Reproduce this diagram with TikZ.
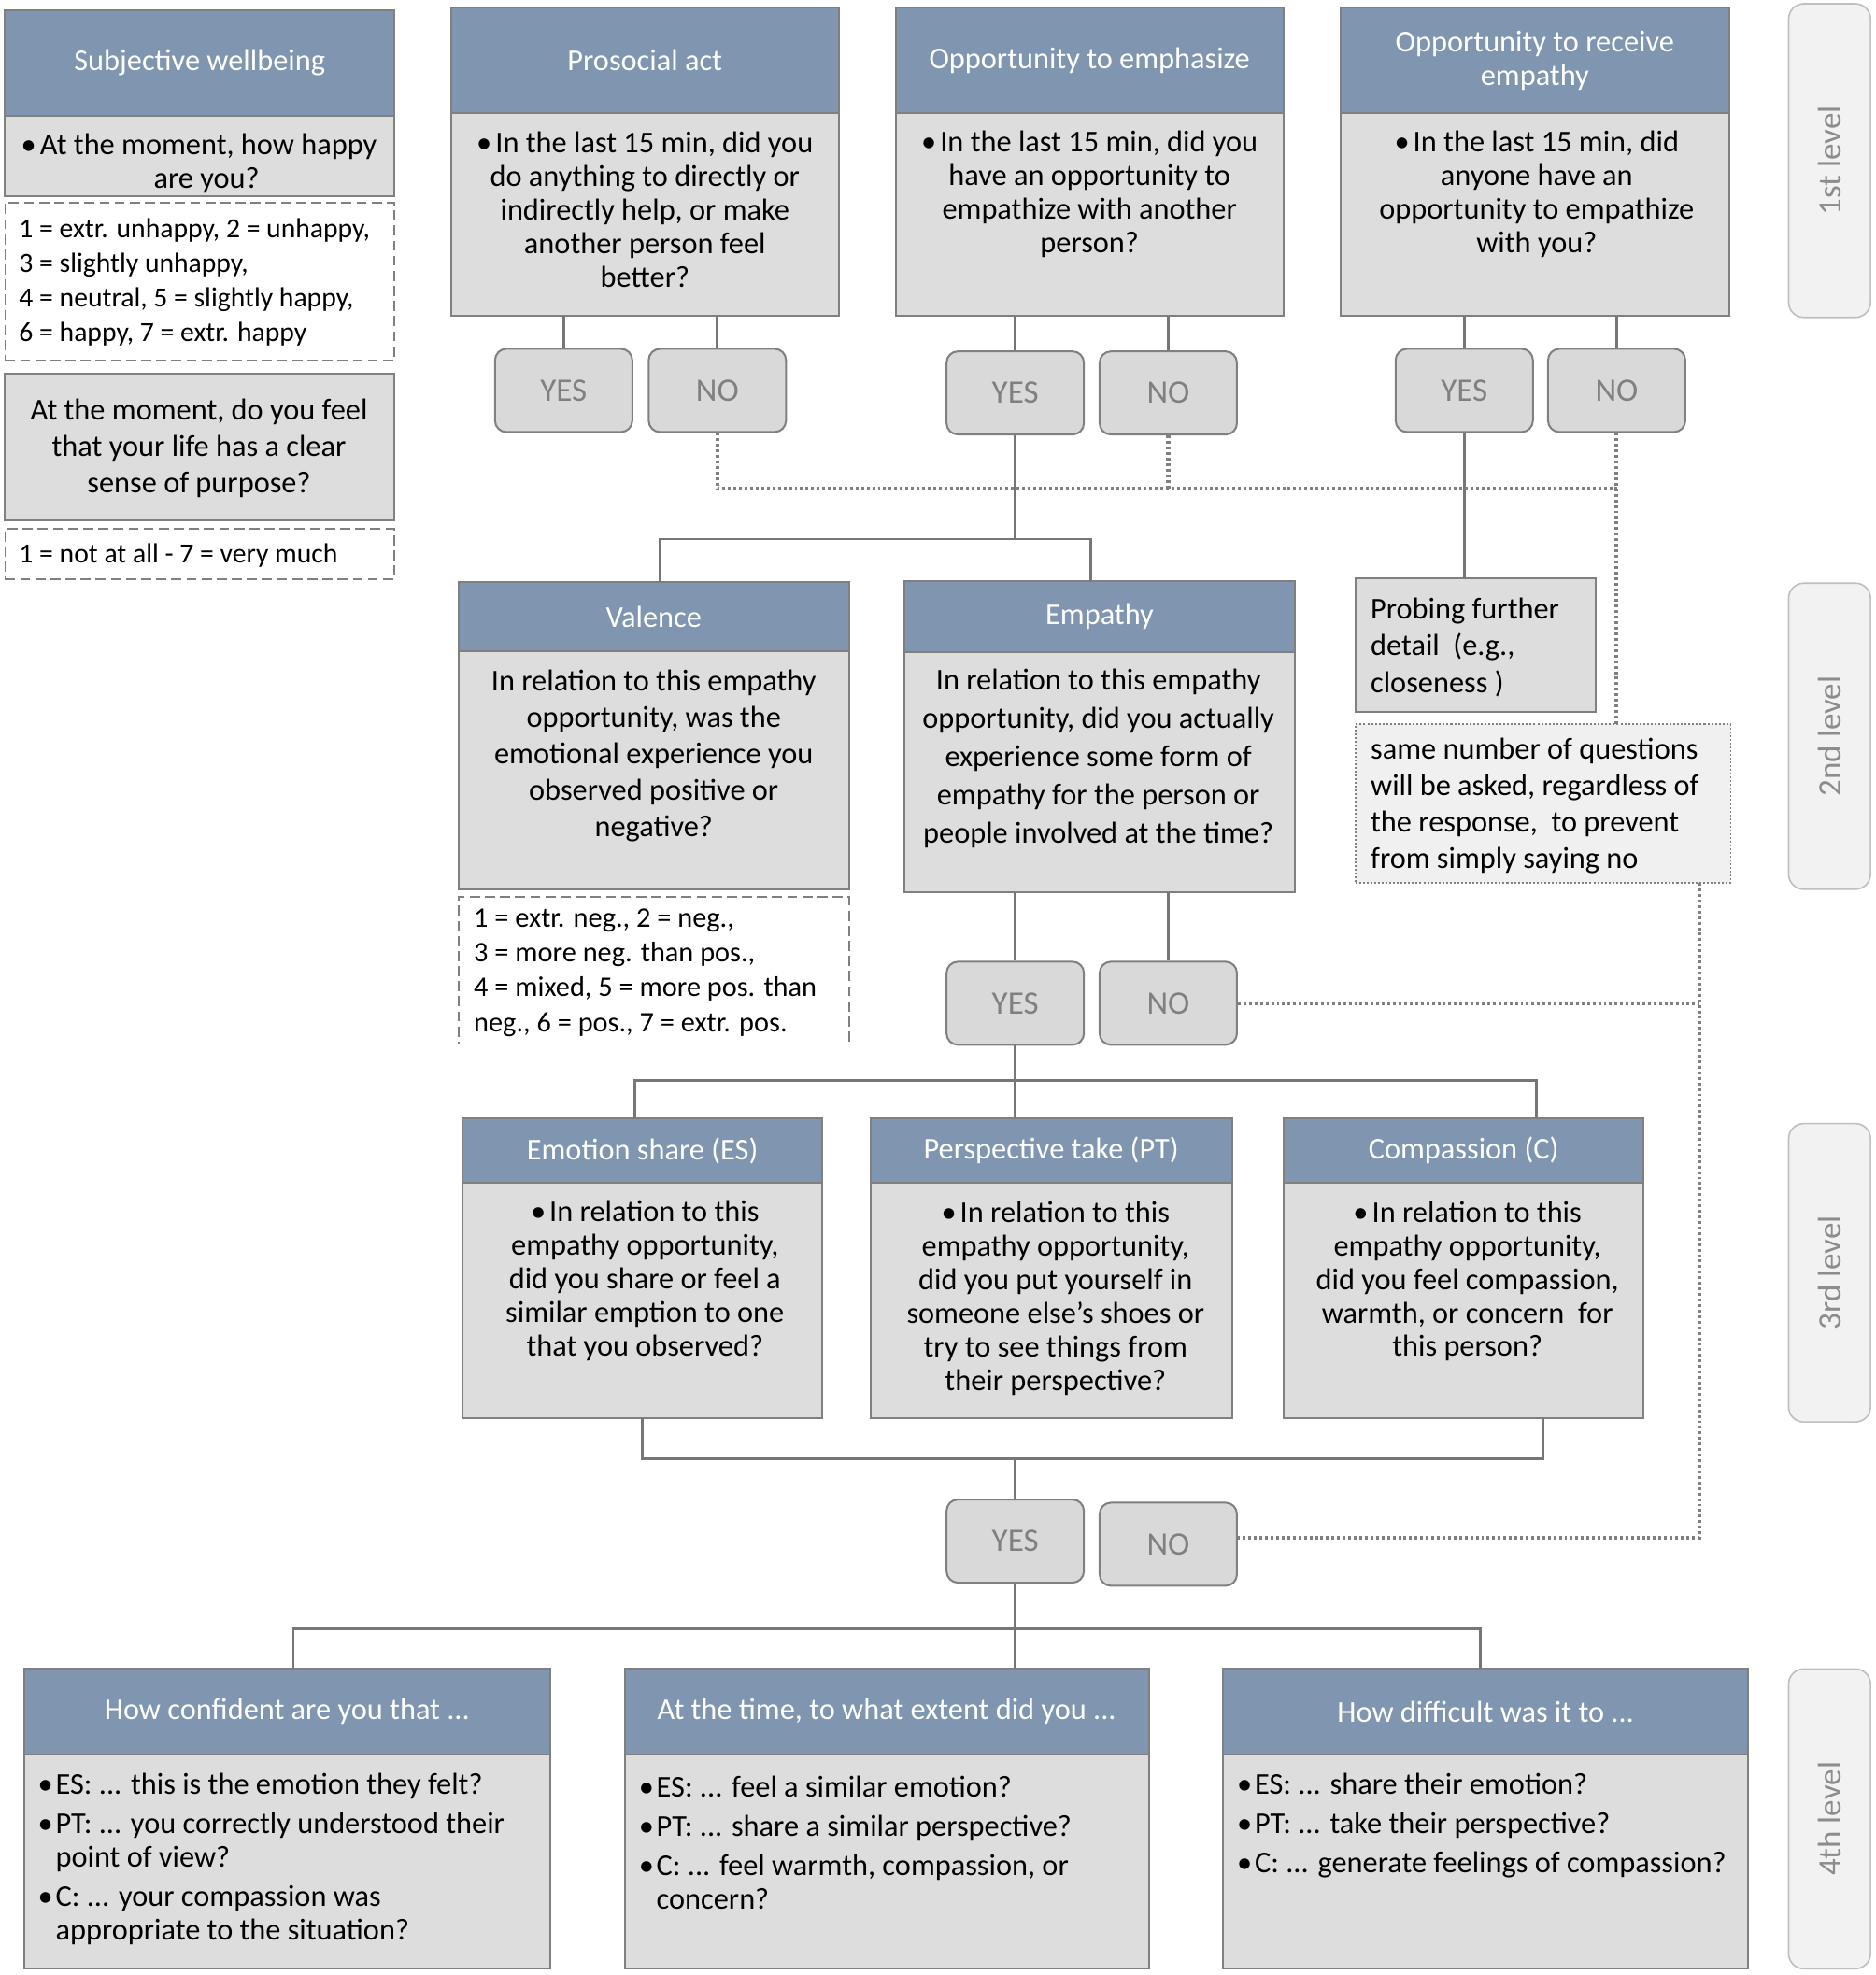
\documentclass[tikz,border=0pt]{standalone}
\usepackage{fontspec}
\setmainfont{Carlito}
\usetikzlibrary{calc}
\definecolor{hdrblue}{RGB}{128,150,176}
\definecolor{bodygray}{RGB}{221,221,221}
\definecolor{bordergray}{RGB}{128,128,128}
\definecolor{ynfill}{RGB}{217,217,217}
\definecolor{yntext}{RGB}{128,128,128}
\definecolor{lvlfill}{RGB}{242,242,242}
\definecolor{lvlborder}{RGB}{191,191,191}
\definecolor{lvltext}{RGB}{140,140,140}
\definecolor{linegray}{RGB}{118,118,118}
\newcommand{\bitem}{\makebox[14pt][l]{\textbullet}}
\newcommand{\bcont}{\hspace*{14pt}}
\begin{document}
\begin{tikzpicture}[x=1pt,y=-1pt,
  bx/.style={draw=bordergray, line width=1.5pt, anchor=north west, inner sep=0pt, outer sep=0pt},
  hdr/.style={bx, fill=hdrblue, text=white, align=center, font=\fontsize{24}{27}\selectfont},
  bodybox/.style={bx, fill=bodygray},
  scalebx/.style={bx, fill=white, dash pattern=on 8pt off 4pt, line width=1.2pt},
  txt/.style={inner sep=0pt, align=center, text=black},
  ltxt/.style={inner sep=0pt, align=left, anchor=west, text=black},
  yn/.style={draw=bordergray, fill=ynfill, rounded corners=9pt, line width=1.5pt, minimum width=109pt, minimum height=66pt, text=yntext, font=\fontsize{26}{30}\selectfont, inner sep=0pt},
  lvl/.style={draw=lvlborder, fill=lvlfill, rounded corners=12pt, line width=1.2pt, minimum height=65pt, text=lvltext, font=\fontsize{26}{30}\selectfont, rotate=90, inner sep=0pt},
  conn/.style={draw=linegray, line width=2pt},
  dotl/.style={draw=bordergray, line width=3pt, dash pattern=on 2.2pt off 2.2pt},
]
\useasboundingbox (0,0) rectangle (1489,1568);
\fill[white] (0,0) rectangle (1489,1568);

% ---------- Column 1: Subjective wellbeing ----------
\node[hdr, minimum width=309pt, minimum height=84pt] (swh) at (4,8) {Subjective wellbeing};
\node[bodybox, minimum width=309pt, minimum height=64pt] (swb) at (4,92) {};
\node[txt, font=\fontsize{24}{27}\selectfont] (swt) at (158,129.5) {\textbullet\hspace{3pt}At the moment, how happy\\\hspace*{12pt}are you?};
\node[scalebx, minimum width=309pt, minimum height=125pt] (sws) at (4,161) {};
\node[ltxt, font=\fontsize{22}{27.3}\selectfont] (swst) at (15,224) {1 = extr. unhappy, 2 = unhappy,\\3 = slightly unhappy,\\4 = neutral, 5 = slightly happy,\\6 = happy, 7 = extr. happy};
\node[bodybox, minimum width=309pt, minimum height=116pt] (pur) at (4,297) {};
\node[txt, font=\fontsize{24}{29}\selectfont] (purt) at (158,356) {At the moment, do you feel\\that your life has a clear\\sense of purpose?};
\node[scalebx, minimum width=309pt, minimum height=40pt] (purs) at (4,420) {};
\node[ltxt, font=\fontsize{22}{27}\selectfont] (purst) at (15,441) {1 = not at all - 7 = very much};

% ---------- Prosocial act ----------
\node[hdr, minimum width=308pt, minimum height=84pt] (proh) at (358,6) {Prosocial act};
\node[bodybox, minimum width=308pt, minimum height=161pt] (prob) at (358,90) {};
\node[txt, font=\fontsize{24}{26.7}\selectfont] (prot) at (512,166.5) {\textbullet\hspace{3pt}In the last 15 min, did you\\do anything to directly or\\indirectly help, or make\\another person feel\\better?};

% ---------- Opportunity to emphasize ----------
\node[hdr, minimum width=308pt, minimum height=84pt] (emh) at (711,6) {Opportunity to emphasize};
\node[bodybox, minimum width=308pt, minimum height=161pt] (emb) at (711,90) {};
\node[txt, font=\fontsize{24}{26.7}\selectfont] (emt) at (865,154) {\textbullet\hspace{3pt}In the last 15 min, did you\\have an opportunity to\\empathize with another\\person?};

% ---------- Opportunity to receive empathy ----------
\node[hdr, minimum width=309pt, minimum height=84pt, font=\fontsize{24}{27}\selectfont] (reh) at (1064,6) {Opportunity to receive\\empathy};
\node[bodybox, minimum width=309pt, minimum height=161pt] (reb) at (1064,90) {};
\node[txt, font=\fontsize{24}{26.7}\selectfont] (ret) at (1220,154) {\textbullet\hspace{3pt}In the last 15 min, did\\anyone have an\\opportunity to empathize\\with you?};

% ---------- YES / NO row 1 ----------
\node[yn] (pyes) at (447.5,310) {YES};
\node[yn] (pno) at (569.5,310) {NO};
\node[yn] (eyes) at (806,312) {YES};
\node[yn] (eno) at (927.5,312) {NO};
\node[yn] (ryes) at (1162.5,310) {YES};
\node[yn] (rno) at (1283.5,310) {NO};

% ---------- Level 2 ----------
\node[hdr, minimum width=310pt, minimum height=55pt] (valh) at (364,462) {Valence};
\node[bodybox, minimum width=310pt, minimum height=189pt] (valb) at (364,517) {};
\node[txt, font=\fontsize{24}{29}\selectfont] (valt) at (519,600) {In relation to this empathy\\opportunity, was the\\emotional experience you\\observed positive or\\negative?};
\node[scalebx, minimum width=310pt, minimum height=117pt] (vals) at (364,712) {};
\node[ltxt, font=\fontsize{22.5}{27.7}\selectfont] (valst) at (376,772) {1 = extr. neg., 2 = neg.,\\3 = more neg. than pos.,\\4 = mixed, 5 = more pos. than\\neg., 6 = pos., 7 = extr. pos.};

\node[hdr, minimum width=310pt, minimum height=57pt] (empth) at (718,461) {Empathy};
\node[bodybox, minimum width=310pt, minimum height=190pt] (emptb) at (718,518) {};
\node[txt, font=\fontsize{24}{30.5}\selectfont] (emptt) at (872,602) {In relation to this empathy\\opportunity, did you actually\\experience some form of\\empathy for the person or\\people involved at the time?};

\node[bodybox, minimum width=191pt, minimum height=106pt] (probe) at (1076,459) {};
\node[ltxt, font=\fontsize{24}{29}\selectfont] (probet) at (1088,514) {Probing further\\detail\ \ (e.g.,\\closeness )};
\node[bx, draw=bordergray, line width=1.2pt, dash pattern=on 1.5pt off 1.5pt, fill=black!6, minimum width=298pt, minimum height=126pt] (same) at (1076,575) {};
\node[ltxt, font=\fontsize{24}{29}\selectfont] (samet) at (1088,640) {same number of questions\\will be asked, regardless of\\the response,\ \ to prevent\\from simply saying no};

\node[yn] (y2) at (806,796.5) {YES};
\node[yn] (n2) at (927.5,796.5) {NO};

% ---------- Level 3 ----------
\node[hdr, minimum width=286pt, minimum height=51pt] (esh) at (367,888) {Emotion share (ES)};
\node[bodybox, minimum width=286pt, minimum height=187pt] (esb) at (367,939) {};
\node[txt, font=\fontsize{24}{26.7}\selectfont] (est) at (512,1017) {\textbullet\hspace{3pt}In relation to this\\empathy opportunity,\\did you share or feel a\\similar emption to one\\that you observed?};

\node[hdr, minimum width=287pt, minimum height=51pt] (pth) at (691,888) {Perspective take (PT)};
\node[bodybox, minimum width=287pt, minimum height=187pt] (ptb) at (691,939) {};
\node[txt, font=\fontsize{24}{26.6}\selectfont] (ptt) at (838,1031) {\textbullet\hspace{3pt}In relation to this\\empathy opportunity,\\did you put yourself in\\someone else’s shoes or\\try to see things from\\their perspective?};

\node[hdr, minimum width=286pt, minimum height=51pt] (ch) at (1019,888) {Compassion (C)};
\node[bodybox, minimum width=286pt, minimum height=187pt] (cb) at (1019,939) {};
\node[txt, font=\fontsize{24}{26.5}\selectfont] (ct) at (1165,1017.5) {\textbullet\hspace{3pt}In relation to this\\empathy opportunity,\\did you feel compassion,\\warmth, or concern\ \ for\\this person?};

\node[yn] (y3) at (806,1223.5) {YES};
\node[yn] (n3) at (927.5,1226) {NO};

% ---------- Level 4 ----------
\node[hdr, minimum width=418pt, minimum height=68pt] (confh) at (19,1325) {How confident are you that ...};
\node[bodybox, minimum width=418pt, minimum height=170pt] (confb) at (19,1393) {};
\node[ltxt, font=\fontsize{24}{27}\selectfont] (conft) at (30,1476) {\bitem ES: ... this is the emotion they felt?\\[4pt]\bitem PT: ... you correctly understood their\\\bcont point of view?\\[4pt]\bitem C: ... your compassion was\\\bcont appropriate to the situation?};

\node[hdr, minimum width=416pt, minimum height=68pt] (timeh) at (496,1325) {At the time, to what extent did you ...};
\node[bodybox, minimum width=416pt, minimum height=170pt] (timeb) at (496,1393) {};
\node[ltxt, font=\fontsize{24}{27}\selectfont] (timet) at (507,1463) {\bitem ES: ... feel a similar emotion?\\[4pt]\bitem PT: ... share a similar perspective?\\[4pt]\bitem C: ... feel warmth, compassion, or\\\bcont concern?};

\node[hdr, minimum width=417pt, minimum height=68pt] (diffh) at (971,1325) {How difficult was it to ...};
\node[bodybox, minimum width=417pt, minimum height=170pt] (diffb) at (971,1393) {};
\node[ltxt, font=\fontsize{24}{27}\selectfont] (difft) at (982,1449.5) {\bitem ES: ... share their emotion?\\[4pt]\bitem PT: ... take their perspective?\\[4pt]\bitem C: ... generate feelings of compassion?};

% ---------- Level labels ----------
\node[lvl, minimum width=249pt] (lv1) at (1452.5,127.5) {1st level};
\node[lvl, minimum width=243pt] (lv2) at (1452.5,584.5) {2nd level};
\node[lvl, minimum width=237pt] (lv3) at (1452.5,1010.5) {3rd level};
\node[lvl, minimum width=238pt] (lv4) at (1452.5,1444) {4th level};

% ---------- branch coordinates ----------
\coordinate (b1L) at (524,428);
\coordinate (b1R) at (866,428);
\coordinate (dj) at (1284,388);
\coordinate (b2L) at (504,858);
\coordinate (b2R) at (1220,858);
\coordinate (b3L) at (510,1158);
\coordinate (b3R) at (1225,1158);
\coordinate (b4L) at (233,1293);
\coordinate (b4R) at (1175,1293);
\coordinate (dx) at (1349,1221);

% ---------- solid connectors ----------
\draw[conn] (pyes.north |- prob.south) -- (pyes.north);
\draw[conn] (pno.north |- prob.south) -- (pno.north);
\draw[conn] (eyes.north |- emb.south) -- (eyes.north);
\draw[conn] (eno.north |- emb.south) -- (eno.north);
\draw[conn] (ryes.north |- reb.south) -- (ryes.north);
\draw[conn] (rno.north |- reb.south) -- (rno.north);

\draw[conn] (eyes.south) -- (eyes.south |- b1L);
\draw[conn] (b1L |- valh.north) -- (b1L) -- (b1R) -- (b1R |- empth.north);
\draw[conn] (ryes.south) -- (ryes.south |- probe.north);

\draw[conn] (y2.north |- emptb.south) -- (y2.north);
\draw[conn] (n2.north |- emptb.south) -- (n2.north);
\draw[conn] (y2.south) -- (y2.south |- pth.north);
\draw[conn] (b2L |- esh.north) -- (b2L) -- (b2R) -- (b2R |- ch.north);

\draw[conn] (b3L |- esb.south) -- (b3L) -- (b3R) -- (b3R |- cb.south);
\draw[conn] (y3.north) -- (y3.north |- b3L);

\draw[conn] (y3.south) -- (y3.south |- timeh.north);
\draw[conn] (b4L |- confh.north) -- (b4L) -- (b4R) -- (b4R |- diffh.north);

% ---------- dotted connectors ----------
\draw[dotl] (pno.south) |- (dj);
\draw[dotl] (eno.south) -- (eno.south |- dj);
\draw[dotl] (rno.south) -- (rno.south |- same.north);
\draw[dotl] (same.south -| dx) -- (dx) -- (dx -| n3.east);
\draw[dotl] (n2.east) -- (n2.east -| dx);
\end{tikzpicture}
\end{document}
